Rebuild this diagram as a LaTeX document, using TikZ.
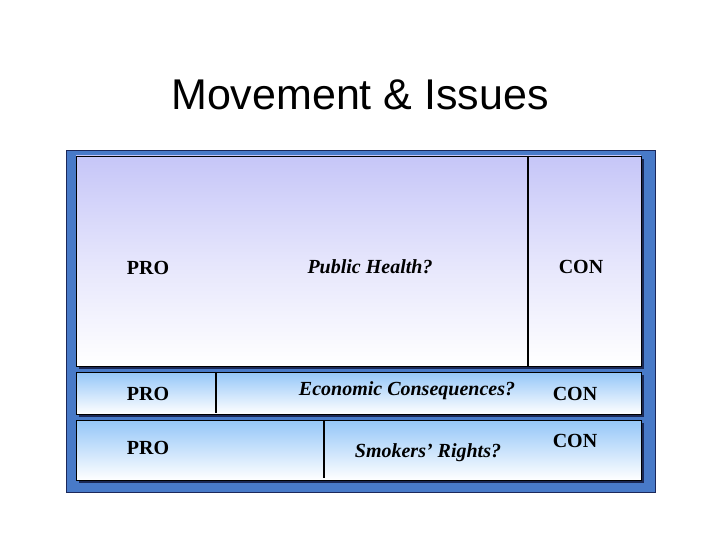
\documentclass[tikz,border=0pt]{standalone}
\usepackage{fontspec}
\setmainfont{Liberation Serif}
\newfontfamily\titlefont{Liberation Sans}
\usepackage{tikz}
\usetikzlibrary{positioning,calc,shadows}

\definecolor{framebl}{RGB}{72,122,200}
\definecolor{framedk}{RGB}{28,40,90}
\definecolor{lavtop}{RGB}{198,198,248}
\definecolor{skytop}{RGB}{148,198,248}

\begin{document}
\begin{tikzpicture}[x=1pt,y=-1pt,
		panel/.style={draw=black,line width=0.9pt,inner sep=0pt,
			bottom color=white,
			drop shadow={fill=framedk!80!black,opacity=0.9,shadow xshift=2.5pt,shadow yshift=-3pt}},
		label/.style={font=\bfseries\fontsize{20}{24}\selectfont},
		topic/.style={font=\bfseries\itshape\fontsize{20}{24}\selectfont},
		divider/.style={line width=2.4pt,black},
	]
		\useasboundingbox (0,0) rectangle (720,540);
		\node (title) at (360,95) {\titlefont\fontsize{43}{48}\selectfont Movement \& Issues};

		% blue frame behind the panels
		\node (frame) [draw=framedk,fill=framebl,line width=0.8pt,
			minimum width=589pt,minimum height=342pt] at (360.5,321) {};

		\node (health) [panel,top color=lavtop,middle color=lavtop!45!white,
			minimum width=565pt,minimum height=210pt] at (358.5,261) {};
		\node (econ) [panel,top color=skytop,
			minimum width=565pt,minimum height=42pt] at (358.5,393) {};
		\node (smoke) [panel,top color=skytop,
			minimum width=565pt,minimum height=60pt] at (358.5,450) {};

		\draw[divider] (528,156) -- (528,366);
		\draw[divider] (216,373) -- (216,413);
		\draw[divider] (324,421) -- (324,478);

		\node (hpro) [label] at (148,268) {PRO};
		\node (htopic) [topic] at (370,267) {Public Health?};
		\node (hcon) [label] at (581,267) {CON};

		\node (epro) [label] at (148,394) {PRO};
		\node (etopic) [topic] at (407,391) {Economic Consequences?};
		\node (econ2) [label] at (575,394) {CON};

		\node (spro) [label] at (148,448) {PRO};
		\node (stopic) [topic] at (428,453) {Smokers’ Rights?};
		\node (scon) [label] at (575,441) {CON};
	\end{tikzpicture}
\end{document}
